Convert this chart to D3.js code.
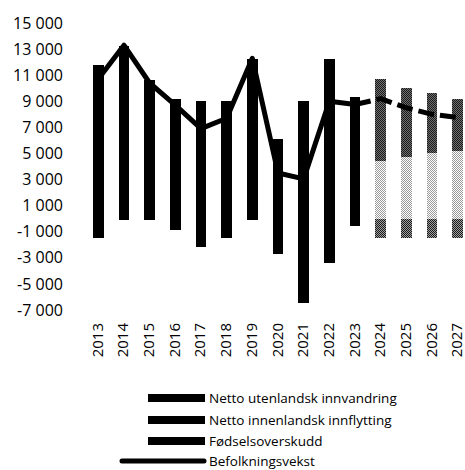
<!DOCTYPE html>
<html>
<head>
<meta charset="utf-8">
<script src="https://cdn.jsdelivr.net/npm/d3@7"></script>
<style>
  body { margin: 0; background: #fff; }
  svg { display: block; font-family: "Open Sans", sans-serif; }
</style>
</head>
<body>
<div id="chart"></div>
<script>
// Data
var years = ['2013', '2014', '2015', '2016', '2017', '2018', '2019', '2020', '2021', '2022', '2023', '2024', '2025', '2026', '2027'];
var projectedFrom = '2024';
var innvandring = [6600, 7900, 5750, 4600, 4800, 5100, 8550, 2700, 5750, 9650, 6800, 6300, 5300, 4600, 4000];
var innenlandsk = [-1450, -100, -100, -900, -2200, -1450, -100, -2700, -6500, -3400, -550, -1500, -1500, -1500, -1500];
var fodsel = [5200, 5300, 4900, 4600, 4200, 3900, 3700, 3400, 3300, 2600, 2500, 4400, 4700, 5000, 5200];
var vekstYears = ['2013', '2014', '2015', '2016', '2017', '2018', '2019', '2020', '2021', '2022', '2023'];
var vekst = [10700, 13300, 10400, 8700, 6900, 7700, 12300, 3500, 3050, 9000, 8750];
var prognoseYears = ['2023', '2024', '2025', '2026', '2027'];
var prognose = [8750, 9200, 8500, 8000, 7750];
var yTicks = [-7000, -5000, -3000, -1000, 1000, 3000, 5000, 7000, 9000, 11000, 13000, 15000];
var legendLabels = ['Netto utenlandsk innvandring', 'Netto innenlandsk innflytting', 'Fødselsoverskudd', 'Befolkningsvekst'];

var width = 465, height = 470;

var svg = d3.select('#chart').append('svg')
    .attr('width', width)
    .attr('height', height);

// checker patterns for the projected years
var defs = svg.append('defs');
function checker(id, bg, fg) {
    var p = defs.append('pattern')
        .attr('id', id)
        .attr('patternUnits', 'userSpaceOnUse')
        .attr('width', 2).attr('height', 2);
    p.append('rect').attr('width', 2).attr('height', 2).attr('fill', bg);
    p.append('rect').attr('width', 1).attr('height', 1).attr('fill', fg);
    p.append('rect').attr('x', 1).attr('y', 1).attr('width', 1).attr('height', 1).attr('fill', fg);
}
checker('pat-innv', '#707070', '#1a1a1a');
checker('pat-inne', '#a0a0a0', '#1a1a1a');
checker('pat-fods', '#fff', '#9a9a9a');
var patterns = {innvandring: 'url(#pat-innv)', innenlandsk: 'url(#pat-inne)', fodsel: 'url(#pat-fods)'};

var x = d3.scaleBand().domain(years).range([78, 478]).padding(0.58);
var y = d3.scaleLinear().domain([-7000, 15000]).range([310, 23]);

var rows = years.map(function(yr, i) {
    return {year: yr, innvandring: innvandring[i], innenlandsk: innenlandsk[i], fodsel: fodsel[i]};
});
var keys = ['fodsel', 'innvandring', 'innenlandsk'];
var series = d3.stack().keys(keys).offset(d3.stackOffsetDiverging)(rows);

var g = svg.append('g');
g.selectAll('.serie')
    .data(series)
    .enter().append('g')
    .attr('class', 'serie')
    .selectAll('rect')
    .data(function(s) { return s.map(function(d) { d.key = s.key; return d; }); })
    .enter().append('rect')
    .attr('x', function(d) { return x(d.data.year); })
    .attr('width', x.bandwidth())
    .attr('y', function(d) { return y(Math.max(d[0], d[1])); })
    .attr('height', function(d) { return Math.abs(y(d[0]) - y(d[1])); })
    .attr('shape-rendering', 'crispEdges')
    .attr('fill', function(d) {
        return d.data.year >= projectedFrom ? patterns[d.key] : '#000';
    });

// population growth line
var line = d3.line()
    .x(function(d) { return x(d[0]) + x.bandwidth() / 2; })
    .y(function(d) { return y(d[1]); });

g.append('path')
    .datum(vekstYears.map(function(yr, i) { return [yr, vekst[i]]; }))
    .attr('d', line)
    .attr('fill', 'none')
    .attr('stroke', '#000')
    .attr('stroke-width', 5)
    .attr('stroke-linejoin', 'round');

g.append('path')
    .datum(prognoseYears.map(function(yr, i) { return [yr, prognose[i]]; }))
    .attr('d', line)
    .attr('fill', 'none')
    .attr('stroke', '#000')
    .attr('stroke-width', 5)
    .attr('stroke-dasharray', '16,6');

// y axis labels
var locale = d3.formatLocale({decimal: ',', thousands: '\u00a0', grouping: [3], currency: ['', ''], minus: '-'});
var fmt = locale.format(',');

var yAxis = svg.append('g')
    .attr('transform', 'translate(63,0)')
    .call(d3.axisLeft(y).tickValues(yTicks).tickFormat(fmt).tickSize(0).tickPadding(0));
yAxis.select('.domain').remove();
yAxis.selectAll('text')
    .attr('font-family', '"Open Sans", sans-serif')
    .attr('font-size', 16)
    .attr('fill', '#000');

// x axis labels
var xAxis = svg.append('g')
    .attr('transform', 'translate(0,323)')
    .call(d3.axisBottom(x).tickSize(0).tickPadding(0));
xAxis.select('.domain').remove();
xAxis.selectAll('text')
    .attr('font-family', '"Open Sans", sans-serif')
    .attr('font-size', 15)
    .attr('fill', '#000')
    .attr('transform', 'rotate(-90)')
    .attr('text-anchor', 'end')
    .attr('x', 0)
    .attr('y', 0)
    .attr('dx', 0)
    .attr('dy', '0.3em');

// legend
var legend = svg.append('g');
var legendY = [398, 420, 441, 461];
legendLabels.forEach(function(label, i) {
    var row = legend.append('g').attr('transform', 'translate(0,' + legendY[i] + ')');
    if (i < 3) {
        row.append('rect')
            .attr('x', 148).attr('y', -4)
            .attr('width', 57).attr('height', 8)
            .attr('fill', '#000');
    } else {
        row.append('line')
            .attr('x1', 122).attr('x2', 204)
            .attr('stroke', '#000')
            .attr('stroke-width', 5)
            .attr('stroke-linecap', 'round');
    }
    row.append('text')
        .attr('x', 209)
        .attr('dy', '0.35em')
        .attr('font-size', 13.5)
        .text(label);
});
</script>
</body>
</html>
